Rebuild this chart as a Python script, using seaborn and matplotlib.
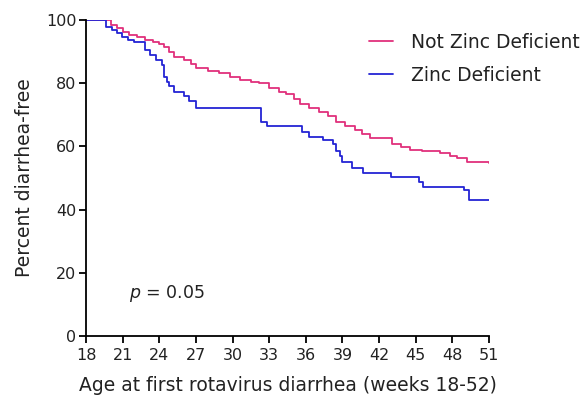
import matplotlib
matplotlib.use("Agg")
import matplotlib.pyplot as plt
import seaborn as sns
import pandas as pd
from matplotlib.lines import Line2D

# Data (step survival curves)
weeks_not_def = [18, 19.5, 20.0, 20.5, 21.0, 21.5, 22.2, 22.8, 23.5, 24.0, 24.4, 24.8, 25.2,
                 26.0, 26.6, 27.0, 28.0, 28.9, 29.8, 30.6, 31.5, 32.2, 33.0, 33.8, 34.4,
                 35.0, 35.5, 36.3, 37.1, 37.8, 38.5, 39.2, 40.0, 40.6, 41.3, 43.1, 43.8,
                 44.5, 45.5, 47.0, 47.8, 48.4, 49.2, 51.0]
pct_not_def = [100, 100, 98.5, 97.5, 96.2, 95.3, 94.5, 93.8, 93.0, 92.4, 91.5, 89.8, 88.2,
               87.3, 86.0, 84.8, 84.0, 83.3, 82.0, 81.0, 80.4, 80.0, 78.5, 77.3, 76.5,
               75.0, 73.5, 72.0, 70.8, 69.5, 67.8, 66.5, 65.2, 64.0, 62.7, 60.8, 59.8,
               59.0, 58.6, 57.9, 57.0, 56.3, 55.0, 54.7]

weeks_def = [18, 19.5, 19.6, 20.1, 20.5, 20.9, 21.4, 21.9, 22.8, 23.2, 23.7, 24.2, 24.4,
             24.6, 24.8, 25.2, 26.0, 26.4, 27.0, 32.3, 32.8, 35.7, 36.3, 37.4, 38.2,
             38.5, 38.8, 39.0, 39.8, 40.7, 43.0, 45.3, 45.6, 49.0, 49.4, 51.0]
pct_def = [100, 100, 97.8, 96.8, 95.9, 94.6, 93.7, 93.0, 90.5, 88.9, 87.3, 85.8, 82.0,
           80.5, 79.0, 77.2, 76.0, 74.5, 72.2, 67.7, 66.5, 64.6, 63.0, 62.0, 60.8,
           58.5, 57.0, 55.0, 53.2, 51.6, 50.3, 48.7, 47.2, 46.2, 43.0, 43.0]

series_names = ["Not Zinc Deficient", "Zinc Deficient"]
x_ticks = list(range(18, 52, 3))
y_ticks = [0, 20, 40, 60, 80, 100]

df = pd.concat([
    pd.DataFrame({"week": weeks_not_def, "pct": pct_not_def, "group": series_names[0]}),
    pd.DataFrame({"week": weeks_def, "pct": pct_def, "group": series_names[1]}),
], ignore_index=True)

sns.set_theme(style="ticks")
plt.rcParams["font.family"] = ["DejaVu Sans"]
plt.rcParams["mathtext.fontset"] = "dejavusans"

fig = plt.figure(figsize=(5.82, 4.0), dpi=100)
ax = fig.add_axes([0.148, 0.16, 0.692, 0.79])

palette = {series_names[0]: "#E0307C", series_names[1]: "#2424D4"}
sns.lineplot(data=df, x="week", y="pct", hue="group", palette=palette,
             drawstyle="steps-post", linewidth=1.3, ax=ax, legend=False,
             estimator=None, sort=False)

ax.set_xlim(18, 51)
ax.set_ylim(0, 100)
ax.set_xticks(x_ticks)
ax.set_yticks(y_ticks)
ax.tick_params(axis="both", direction="out", length=5, width=1.3, color="black",
               labelsize=11.5, labelcolor="#222222", pad=2)
ax.tick_params(axis="x", pad=4)
for s in ["top", "right"]:
    ax.spines[s].set_visible(False)
for s in ["left", "bottom"]:
    ax.spines[s].set_linewidth(1.3)
    ax.spines[s].set_color("black")
ax.set_xlabel("Age at first rotavirus diarrhea (weeks 18-52)", fontsize=13.5, color="#222222", labelpad=9)
ax.set_ylabel("Percent diarrhea-free", fontsize=13.5, color="#222222", labelpad=8.5)

# legend
handles = [Line2D([0], [0], color=palette[n], lw=1.3) for n in series_names]
fig.legend(handles, series_names, loc="upper left", bbox_to_anchor=(0.605, 0.96),
           frameon=False, fontsize=13.5, handlelength=1.3, handletextpad=0.95,
           labelspacing=0.75, labelcolor="#222222")

ax.text(24.6, 13.6, "$p$ = 0.05", fontsize=12.5, color="#222222", ha="center", va="center")

fig.savefig("out.png", dpi=100)
